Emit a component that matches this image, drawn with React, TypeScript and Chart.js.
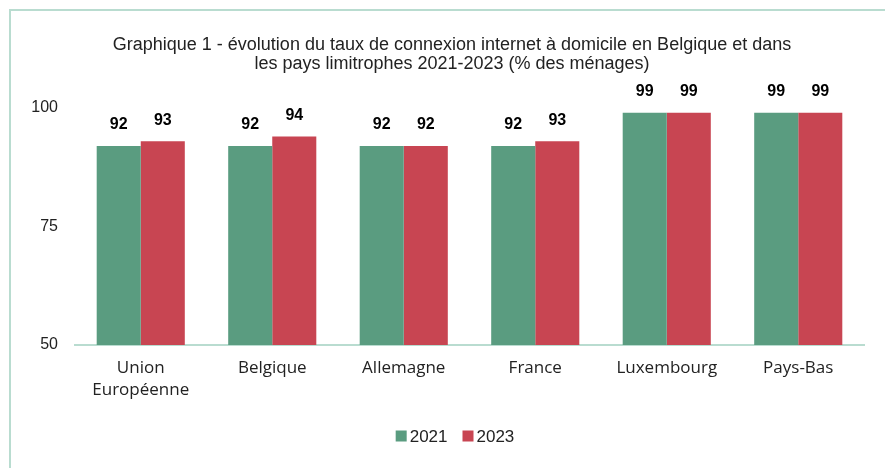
import React, { useEffect, useRef } from "react";
import { Chart, registerables } from "chart.js";

Chart.register(...registerables);

const categories: (string | string[])[] = [
  ["Union", "Européenne"],
  "Belgique",
  "Allemagne",
  "France",
  "Luxembourg",
  "Pays-Bas",
];
const values2021 = [92, 92, 92, 92, 99, 99];
const values2023 = [93, 94, 92, 93, 99, 99];
const yTicks = [50, 75, 100];
const titleLines = [
  "Graphique 1 - évolution du taux de connexion internet à domicile en Belgique et dans",
  "les pays limitrophes 2021-2023 (% des ménages)",
];

const GREEN = "#5a9c80";
const RED = "#c84552";
const AXIS = "#b9dcd0";

const valueLabels = {
  id: "valueLabels",
  afterDatasetsDraw(chart: any) {
    const ctx = chart.ctx;
    ctx.save();
    ctx.font = "bold 16px 'Liberation Sans', Arial, sans-serif";
    ctx.fillStyle = "#000";
    ctx.textAlign = "center";
    ctx.textBaseline = "middle";
    chart.data.datasets.forEach((ds: any, i: number) => {
      const meta = chart.getDatasetMeta(i);
      meta.data.forEach((bar: any, j: number) => {
        ctx.fillText(String(ds.data[j]), bar.x, bar.y - 21);
      });
    });
    ctx.restore();
  },
};

const customTitle = {
  id: "customTitle",
  afterDraw(chart: any) {
    const ctx = chart.ctx;
    ctx.save();
    ctx.font = "18px 'Liberation Sans', Arial, sans-serif";
    ctx.fillStyle = "#222";
    ctx.textAlign = "center";
    ctx.textBaseline = "middle";
    titleLines.forEach((line, i) => {
      ctx.fillText(line, 452, 45 + i * 19);
    });
    ctx.restore();
  },
};

const customLegend = {
  id: "customLegend",
  afterDraw(chart: any) {
    const ctx = chart.ctx;
    const box = 11;
    const gap = 3;
    const itemGap = 15;
    ctx.save();
    ctx.font = "17px 'Liberation Sans', Arial, sans-serif";
    ctx.textBaseline = "middle";
    ctx.textAlign = "left";
    const items = chart.data.datasets.map((ds: any) => ({
      text: ds.label,
      color: ds.backgroundColor,
      w: ctx.measureText(ds.label).width,
    }));
    const total =
      items.reduce((s: number, it: any) => s + box + gap + it.w, 0) + itemGap * (items.length - 1);
    const cx = 455;
    const cy = chart.chartArea.bottom + 92;
    let x = cx - total / 2;
    items.forEach((it: any) => {
      ctx.fillStyle = it.color;
      ctx.fillRect(x, cy - box / 2 - 1, box, box);
      ctx.fillStyle = "#222";
      ctx.fillText(it.text, x + box + gap, cy);
      x += box + gap + it.w + itemGap;
    });
    ctx.restore();
  },
};

export default function App() {
  const ref = useRef<HTMLCanvasElement>(null);
  useEffect(() => {
    document.body.style.margin = "0";
    const chart = new Chart(ref.current!, {
      type: "bar",
      data: {
        labels: categories,
        datasets: [
          {
            label: "2021",
            data: values2021,
            backgroundColor: GREEN,
            categoryPercentage: 0.67,
            barPercentage: 1,
          },
          {
            label: "2023",
            data: values2023,
            backgroundColor: RED,
            categoryPercentage: 0.67,
            barPercentage: 1,
          },
        ],
      },
      options: {
        animation: false,
        responsive: false,
        maintainAspectRatio: false,
        layout: { padding: { left: 0, right: 21, top: 108, bottom: 48 } },
        plugins: {
          title: { display: false },
          legend: { display: false },
          tooltip: { enabled: false },
        },
        scales: {
          x: {
            grid: { display: false, drawTicks: false },
            border: { color: AXIS, width: 2 },
            ticks: {
              color: "#222",
              padding: 12,
              maxRotation: 0,
              font: { family: "'Open Sans', sans-serif", size: 17, lineHeight: 1.3 },
            },
            afterFit: (s: any) => {
              s.height = 75;
            },
          },
          y: {
            min: 50,
            max: 100,
            afterBuildTicks: (s: any) => {
              s.ticks = yTicks.map((v) => ({ value: v }));
            },
            grid: { display: false, drawTicks: false },
            border: { display: false },
            ticks: {
              color: "#222",
              padding: 17,
              font: { family: "'Liberation Sans', Arial, sans-serif", size: 16 },
            },
            afterFit: (s: any) => {
              s.width = 75;
            },
          },
        },
      },
      plugins: [valueLabels, customTitle, customLegend],
    });
    return () => chart.destroy();
  }, []);
  return (
    <div style={{ position: "relative", width: 885, height: 468, overflow: "hidden", background: "#fff" }}>
      <div
        style={{
          position: "absolute",
          left: 9,
          top: 9,
          width: 900,
          height: 500,
          borderLeft: `2px solid ${AXIS}`,
          borderTop: `2px solid ${AXIS}`,
        }}
      />
      <canvas ref={ref} width={885} height={468} style={{ position: "absolute", left: 0, top: 0 }} />
    </div>
  );
}
